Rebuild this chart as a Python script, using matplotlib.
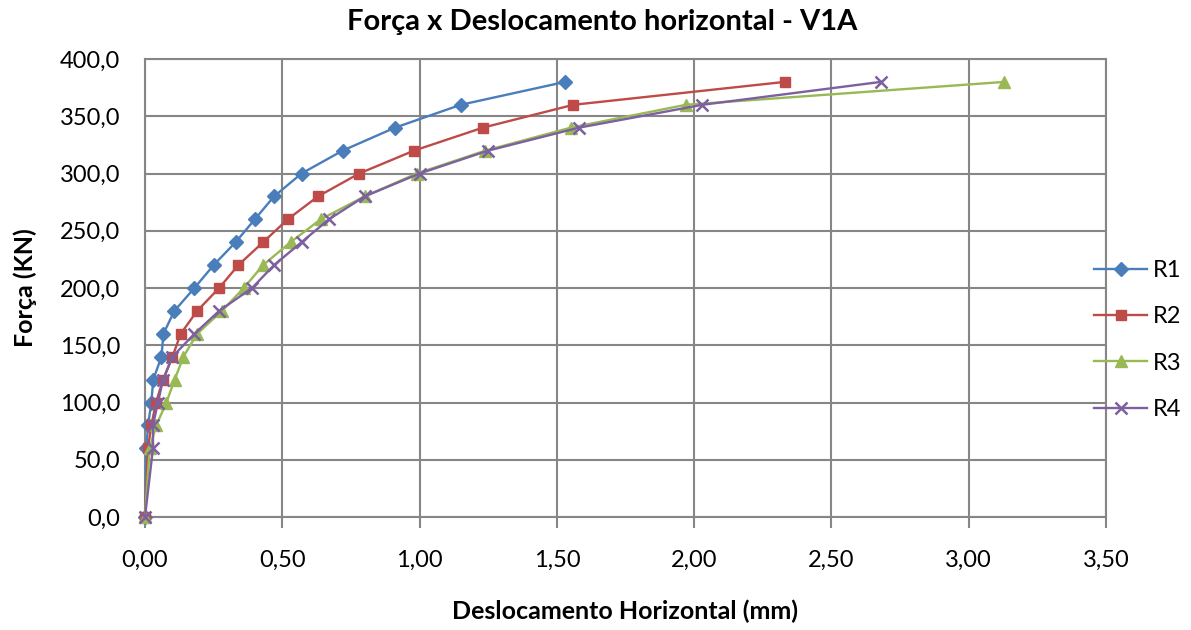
import matplotlib
matplotlib.use("Agg")
import matplotlib.pyplot as plt
from matplotlib.ticker import FuncFormatter, MultipleLocator

plt.rcParams['font.family'] = ['Lato', 'DejaVu Sans']

# Applied load levels (kN), shared by all four readings
forca = [0, 60, 80, 100, 120, 140, 160, 180, 200, 220, 240, 260, 280, 300,
         320, 340, 360, 380]

# Horizontal displacement (mm) for each reading
r1 = [0.00, 0.005, 0.011, 0.023, 0.03, 0.06, 0.067, 0.107, 0.18, 0.25, 0.33,
      0.40, 0.47, 0.57, 0.72, 0.91, 1.15, 1.53]
r2 = [0.00, 0.011, 0.023, 0.04, 0.066, 0.10, 0.13, 0.19, 0.27, 0.34, 0.43,
      0.52, 0.63, 0.78, 0.98, 1.23, 1.56, 2.33]
r3 = [0.00, 0.017, 0.041, 0.078, 0.108, 0.14, 0.19, 0.28, 0.36, 0.43, 0.53,
      0.64, 0.80, 0.99, 1.24, 1.55, 1.97, 3.13]
r4 = [0.00, 0.029, 0.029, 0.047, 0.066, 0.10, 0.18, 0.27, 0.39, 0.47, 0.57,
      0.67, 0.80, 1.00, 1.25, 1.58, 2.03, 2.68]

series_names = ["R1", "R2", "R3", "R4"]

fig = plt.figure(figsize=(11.91, 6.30), dpi=100)
ax = fig.add_axes([145 / 1191, 1 - 517 / 630, 961 / 1191, 458 / 630])

grid_col = "#868686"
styles = [
    dict(color="#4A7EBB", marker="D", markersize=7.5),
    dict(color="#BE4B48", marker="s", markersize=7.5),
    dict(color="#98B954", marker="^", markersize=9),
    dict(color="#7D60A0", marker="x", markersize=9, markeredgewidth=1.8),
]

handles = []
for xs, name, st in zip([r1, r2, r3, r4], series_names, styles):
    h, = ax.plot(xs, forca, linewidth=1.7, label=name, zorder=3,
                 clip_on=False, **st)
    handles.append(h)

ax.set_xlim(0, 3.5)
ax.set_ylim(0, 400)
ax.xaxis.set_major_locator(MultipleLocator(0.5))
ax.yaxis.set_major_locator(MultipleLocator(50))
ax.xaxis.set_major_formatter(FuncFormatter(lambda v, p: f"{v:.2f}".replace(".", ",")))
ax.yaxis.set_major_formatter(FuncFormatter(lambda v, p: f"{v:.1f}".replace(".", ",")))

ax.grid(True, color=grid_col, linewidth=1.5, zorder=0)
ax.set_axisbelow(True)
for sp in ax.spines.values():
    sp.set_color(grid_col)
    sp.set_linewidth(1.5)
ax.tick_params(axis="both", direction="out", width=1.5, color=grid_col,
               labelsize=17, labelcolor="black")
ax.tick_params(axis="x", length=8, pad=16)
ax.tick_params(axis="y", length=0, pad=18)

ax.set_xlabel("Deslocamento Horizontal (mm)", fontsize=18, fontweight="bold",
              labelpad=20)
ax.set_ylabel("Força (KN)", fontsize=18, fontweight="bold", labelpad=16)
fig.suptitle("Força x Deslocamento horizontal - V1A", fontsize=21,
             fontweight="bold", x=602 / 1191, y=1 - 22 / 630, va="center")

fig.legend(handles=handles, loc="center left",
           bbox_to_anchor=(1094 / 1191, 1 - 340 / 630), frameon=False,
           fontsize=17, handlelength=2.25, handletextpad=0.25,
           labelspacing=1.07, borderpad=0, borderaxespad=0)

fig.savefig("out.png", dpi=100)
